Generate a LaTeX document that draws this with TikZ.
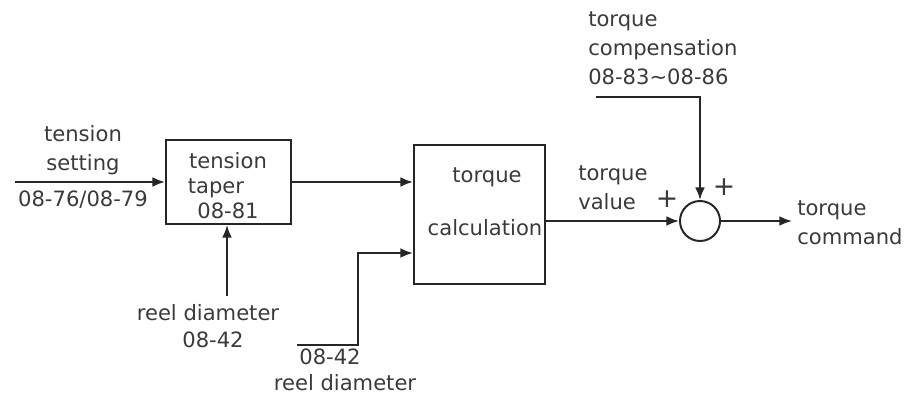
\documentclass[tikz,border=0pt]{standalone}
\usepackage{fontspec}
\setmainfont{DejaVu Sans}
\usetikzlibrary{arrows.meta}
\definecolor{inkc}{HTML}{262626}
\definecolor{txtc}{HTML}{3A3A3A}

\begin{document}
\begin{tikzpicture}[x=0.025cm,y=-0.025cm,
  blk/.style={draw=inkc, line width=1.4pt, inner sep=0pt},
  sumc/.style={draw=inkc, line width=1.4pt, circle, inner sep=0pt, minimum size=1cm},
  lbl/.style={text=txtc, inner sep=0pt, align=center, font=\fontsize{15pt}{20.6pt}\selectfont},
  lbll/.style={lbl, align=left, anchor=west},
  arr/.style={draw=inkc, line width=1.4pt, -{Latex[length=9pt,width=7pt]}}]
\useasboundingbox (0,0) rectangle (912,398);
% % Blocks
\node[blk, minimum width=3.125cm, minimum height=2.1cm] (taper) at (228.5,182) {};
\node[blk, minimum width=3.275cm, minimum height=3.475cm] (calc) at (479.5,214.5) {};
\node[sumc] (sum) at (700,221) {};
% text inside the blocks
\node[lbl] (taperA) at (228,161) {tension};
\node[lbl] (taperB) at (216,188) {taper};
\node[lbl] (taperC) at (228,211) {08-81};
\node[lbl] (calcA) at (487,177) {torque};
\node[lbl] (calcB) at (485,228) {calculation};
% free ends
\coordinate (tsin) at (15,182);
\coordinate (reelA) at (227,296);
\coordinate (reelB) at (297,345);
\coordinate (bend) at (358,253);
\coordinate (compin) at (596,97);
\coordinate (out) at (792,221);
% % Connectors
\draw[arr] (tsin) -- (taper);
\draw[arr] (reelA) -- (reelA |- taper.south);
\draw[arr] (taper) -- (taper -| calc.west);
\draw[arr] (reelB) -| (bend) -- (bend -| calc.west);
\draw[arr] (calc.east |- sum) -- (sum);
\draw[arr] (compin) -| (sum.north);
\draw[arr] (sum) -- (out);
% % Labels
\node[lbl] (tslbl) at (83,150) {tension\\setting};
\node[lbl] (tsnum) at (83,200) {08-76/08-79};
\node[lbl] (reelAlbl) at (208,313) {reel diameter};
\node[lbl] (reelAnum) at (213,340) {08-42};
\node[lbl] (reelBnum) at (330,357) {08-42};
\node[lbl] (reelBlbl) at (345,383) {reel diameter};
\node[lbll] (tvlbl) at (578,188) {torque\\value};
\node[lbll] (complbl) at (588,48) {torque\\compensation\\08-83\textasciitilde 08-86};
\node[lbll] (outlbl) at (797,223) {torque\\command};
\node[lbl, font=\fontsize{19pt}{20pt}\selectfont] (plusA) at (667,199) {+};
\node[lbl, font=\fontsize{19pt}{20pt}\selectfont] (plusB) at (724,187) {+};
\end{tikzpicture}
\end{document}
